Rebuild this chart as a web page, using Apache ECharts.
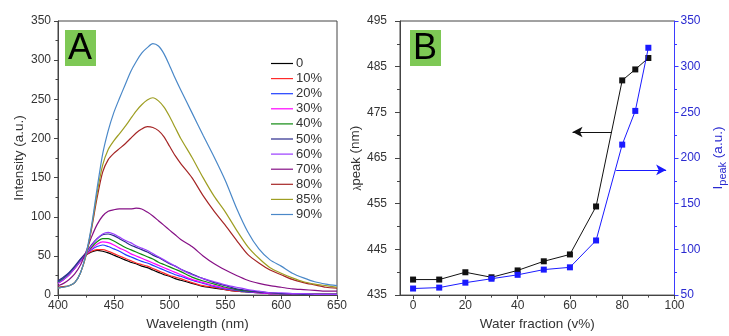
<!DOCTYPE html>
<html>
<head>
<meta charset="utf-8">
<script src="https://cdn.jsdelivr.net/npm/echarts@6/dist/echarts.min.js"></script>
<style>
html,body{margin:0;padding:0;background:#fff;}
#chart{width:729px;height:336px;}
</style>
</head>
<body>
<div id="chart"></div>
<script>
// ---------- Panel A: emission spectra ----------
const wavelengths = [400,405,410,415,420,425,430,435,440,445,450,455,460,465,470,475,480,485,490,495,500,505,510,520,530,540,550,560,570,580,590,600,610,620,630,640,650];
const seriesNames = ['0','10%','20%','30%','40%','50%','60%','70%','80%','85%','90%'];
const spec0  = [16,21,27,35,44,51,55,57,56,54,51,48,45,42,40,37,35,32,29,26,24,21,19,15,11,9,7,5,4,3,2,2,1.5,1,1,1,1];
const spec10 = [15,20,26,34,43,51,56,58,58,56,53,50,47,44,41,39,37,34,31,28,25,23,21,16,12,10,7,5,4,3,2,2,1.5,1,1,1,1];
const spec20 = [17,22,28,36,45,52,58,62,64,62,59,56,52,49,46,43,41,38,35,32,29,26,24,19,15,11,8,6,4,3,2,2,1.5,1,1,1,1];
const spec30 = [15,20,26,34,43,51,59,65,68,67,64,60,57,53,50,47,44,41,38,35,32,29,26,20,16,12,9,7,5,3,2,2,1.5,1,1,1,1];
const spec40 = [16,21,27,35,44,52,61,68,72,72,69,65,61,58,55,52,49,46,42,39,36,33,30,23,18,14,10,7,5,4,3,2,2,1,1,1,1];
const spec50 = [18,23,29,37,46,54,64,72,77,78,76,72,68,64,61,58,55,51,48,44,40,37,33,27,21,16,12,8,6,4,3,2,2,1,1,1,1];
const spec60 = [15,20,26,34,43,52,63,72,78,80,78,74,70,67,63,60,57,53,49,45,41,37,33,26,21,17,13,10,7,5,3,3,2,2,1,1,1];
const spec70 = [12,15,20,27,38,55,74,90,101,107,109,110,110,110,111,110,106,101,95,89,83,77,71,62,50,40,32,25,19,15,12,10,8,7,6,5,5];
const spec80 = [10,11,12,16,28,50,84,124,157,173,181,187,193,200,207,212,215,214,210,202,190,178,168,150,127,107,89,70,52,41,32,26,20,16,13,10,9];
const spec85 = [9,10,12,16,28,50,86,130,166,186,197,206,215,225,235,243,249,252,248,240,228,214,200,176,150,126,106,83,62,47,35,28,22,17,14,12,10];
const spec90 = [9,10,12,16,28,52,88,136,180,210,233,251,268,285,298,309,316,321,318,308,293,277,262,233,204,176,146,111,81,59,45,37,28,22,17,14,12];
const spectra = [spec0,spec10,spec20,spec30,spec40,spec50,spec60,spec70,spec80,spec85,spec90];
const specColors = ['#000000','#ff2a2a','#1f3fff','#ff00ff','#108a10','#2b2b8c','#9a3cff','#861086','#a52525','#9e9e22','#4a88c8'];

// ---------- Panel B: peak wavelength & intensity ----------
const waterFraction = [0,10,20,30,40,50,60,70,80,85,90];
const lambdaPeak = [438.4,438.4,440.0,438.9,440.4,442.4,443.9,454.4,482.0,484.4,486.9];
const intensityPeak = [57.2,58.2,63.6,67.9,72.2,77.9,80.4,109.8,214.7,251.6,320.7];
const waterTicks = [0,20,40,60,80,100];
const waterMinorTicks = [10,30,50,70,90];

const FONT = 'Liberation Sans, Arial, sans-serif';
const TXT = '#333';
const BLUE_TXT = '#2a2ad0';

const chart = echarts.init(document.getElementById('chart'), null, {renderer:'canvas'});

const specSeries = spectra.map((arr, i) => ({
  name: seriesNames[i],
  type: 'line',
  xAxisIndex: 0, yAxisIndex: 0,
  data: wavelengths.map((w, j) => [w, arr[j]]),
  showSymbol: false, symbol: 'none',
  smooth: 0.25,
  lineStyle: {width: 1.2, color: specColors[i]},
  itemStyle: {color: specColors[i]},
  emphasis: {disabled: true},
  z: 2 + i
}));

const option = {
  animation: false,
  textStyle: {fontFamily: FONT},
  grid: [
    {left: 58, top: 21, width: 279, height: 279, show: true, borderColor: '#444', borderWidth: 1, backgroundColor: 'transparent'},
    {left: 400, top: 21, width: 275, height: 279, show: true, borderColor: '#444', borderWidth: 1, backgroundColor: 'transparent'}
  ],
  legend: {
    data: seriesNames,
    orient: 'vertical',
    left: 266, top: 52,
    itemWidth: 22, itemHeight: 14, itemGap: 2.1,
    icon: 'path://M0,6.4 L22,6.4 L22,7.6 L0,7.6 Z',
    textStyle: {fontSize: 13, color: TXT, fontFamily: FONT, padding: [0,0,0,-2]},
    selectedMode: false
  },
  xAxis: [
    {
      gridIndex: 0, type: 'value', min: 400, max: 650, interval: 50,
      name: 'Wavelength (nm)', nameLocation: 'middle', nameGap: 21,
      nameTextStyle: {fontSize: 13.5, color: TXT, fontFamily: FONT},
      axisLine: {show: true, lineStyle: {color: '#444', width: 1}},
      axisTick: {show: true, inside: false, length: 4, lineStyle: {color: '#444'}},
      minorTick: {show: true, splitNumber: 2, length: 2.5, lineStyle: {color: '#444'}},
      axisLabel: {fontSize: 12, color: TXT, margin: 5, fontFamily: FONT},
      splitLine: {show: false}
    },
    {
      gridIndex: 1, type: 'value', min: -5, max: 100,
      name: 'Water fraction (v%)', nameLocation: 'middle', nameGap: 21,
      nameTextStyle: {fontSize: 13.5, color: TXT, fontFamily: FONT},
      axisLine: {show: true, onZero: false, lineStyle: {color: '#444', width: 1}},
      axisTick: {show: true, inside: false, length: 4, customValues: waterTicks, lineStyle: {color: '#444'}},
      axisLabel: {fontSize: 12, color: TXT, margin: 5, customValues: waterTicks, fontFamily: FONT},
      splitLine: {show: false}
    },
    {
      gridIndex: 1, type: 'value', min: -5, max: 100, position: 'bottom',
      axisLine: {show: false},
      axisTick: {show: true, inside: false, length: 2.5, customValues: waterMinorTicks, lineStyle: {color: '#444'}},
      axisLabel: {show: false, customValues: waterMinorTicks},
      splitLine: {show: false}
    }
  ],
  yAxis: [
    {
      gridIndex: 0, type: 'value', min: 0, max: 350, interval: 50,
      name: 'Intensity (a.u.)', nameLocation: 'middle', nameGap: 32,
      nameTextStyle: {fontSize: 13.5, color: TXT, fontFamily: FONT},
      axisLine: {show: true, lineStyle: {color: '#444', width: 1}},
      axisTick: {show: true, inside: false, length: 4, lineStyle: {color: '#444'}},
      minorTick: {show: true, splitNumber: 2, length: 2.5, lineStyle: {color: '#444'}},
      axisLabel: {fontSize: 12, color: TXT, margin: 7, fontFamily: FONT},
      splitLine: {show: false}
    },
    {
      gridIndex: 1, type: 'value', min: 435, max: 495, interval: 10,
      name: '{l|λ}{s|peak}{n| (nm)}', nameLocation: 'middle', nameGap: 36,
      nameTextStyle: {
        color: TXT, fontFamily: FONT,
        rich: {
          l: {fontSize: 10, color: TXT, fontFamily: FONT, verticalAlign: 'bottom', lineHeight: 16},
          s: {fontSize: 13, color: TXT, fontFamily: FONT, verticalAlign: 'bottom', lineHeight: 12, padding: [6,0,0,0]},
          n: {fontSize: 13.5, color: TXT, fontFamily: FONT, lineHeight: 16}
        }
      },
      axisLine: {show: true, onZero: false, lineStyle: {color: '#444', width: 1}},
      axisTick: {show: true, inside: false, length: 5, lineStyle: {color: '#444'}},
      minorTick: {show: true, splitNumber: 2, length: 3, lineStyle: {color: '#444'}},
      axisLabel: {fontSize: 12, color: TXT, margin: 13, fontFamily: FONT},
      splitLine: {show: false}
    },
    {
      gridIndex: 1, type: 'value', min: 50, max: 350, interval: 50, position: 'right',
      name: '{i|I}{s|peak}{n| (a.u.)}', nameLocation: 'middle', nameGap: 36, nameRotate: 90,
      nameTextStyle: {
        color: BLUE_TXT, fontFamily: FONT,
        rich: {
          i: {fontSize: 13.5, color: BLUE_TXT, fontFamily: FONT, lineHeight: 16},
          s: {fontSize: 11, color: BLUE_TXT, fontFamily: FONT, lineHeight: 12, padding: [8,0,0,0]},
          n: {fontSize: 13.5, color: BLUE_TXT, fontFamily: FONT, lineHeight: 16}
        }
      },
      axisLine: {show: true, onZero: false, lineStyle: {color: '#3b3bff', width: 1}},
      axisTick: {show: true, inside: false, length: 4, lineStyle: {color: '#3b3bff'}},
      minorTick: {show: true, splitNumber: 2, length: 2.5, lineStyle: {color: '#3b3bff'}},
      axisLabel: {fontSize: 12, color: BLUE_TXT, margin: 6, fontFamily: FONT},
      splitLine: {show: false}
    }
  ],
  series: specSeries.concat([
    {
      name: 'lambda', type: 'line', xAxisIndex: 1, yAxisIndex: 1,
      data: waterFraction.map((w, i) => [w, lambdaPeak[i]]),
      symbol: 'rect', symbolSize: 6,
      lineStyle: {width: 1, color: '#111'}, itemStyle: {color: '#111'},
      emphasis: {disabled: true}, z: 20,
      markLine: {
        silent: true, symbol: ['none', 'arrow'], symbolSize: [8, 10],
        label: {show: false},
        lineStyle: {color: '#111', width: 1, type: 'solid'},
        data: [[{coord: [76, 470.7]}, {coord: [61, 470.7]}]]
      }
    },
    {
      name: 'ipeak', type: 'line', xAxisIndex: 1, yAxisIndex: 2,
      data: waterFraction.map((w, i) => [w, intensityPeak[i]]),
      symbol: 'rect', symbolSize: 6,
      lineStyle: {width: 1, color: '#1a1aff'}, itemStyle: {color: '#1a1aff'},
      emphasis: {disabled: true}, z: 21,
      markLine: {
        silent: true, symbol: ['none', 'arrow'], symbolSize: [8, 10],
        label: {show: false},
        lineStyle: {color: '#1a1aff', width: 1, type: 'solid'},
        data: [[{coord: [77.7, 187]}, {coord: [96.8, 187]}]]
      }
    }
  ]),
  graphic: [
    {type: 'rect', left: 65, top: 30, shape: {width: 31, height: 36}, style: {fill: '#7ec855'}, z: 50},
    {type: 'text', left: 68, top: 31, style: {text: 'A', font: '36px "Liberation Sans", Arial, sans-serif', fill: '#000'}, z: 51},
    {type: 'rect', left: 410, top: 30, shape: {width: 31, height: 36}, style: {fill: '#7ec855'}, z: 50},
    {type: 'text', left: 413, top: 31, style: {text: 'B', font: '36px "Liberation Sans", Arial, sans-serif', fill: '#000'}, z: 51}
  ]
};
chart.setOption(option);
</script>
</body>
</html>
